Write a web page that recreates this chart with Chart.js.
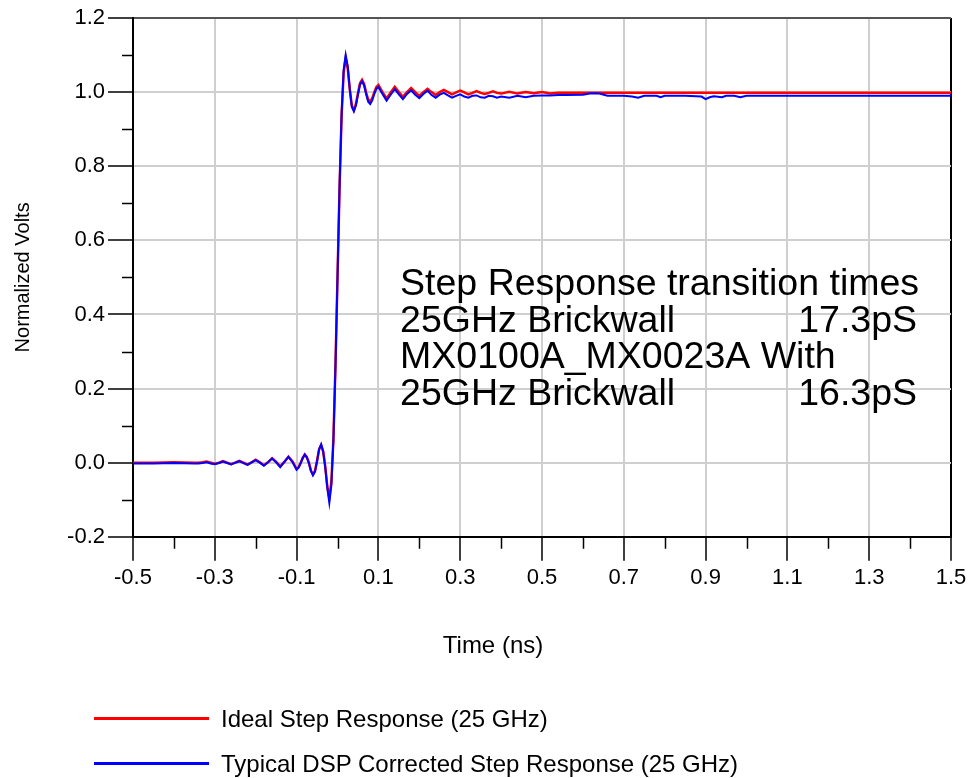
<!DOCTYPE html>
<html>
<head>
<meta charset="utf-8">
<script src="https://cdn.jsdelivr.net/npm/chart.js@4.4.0/dist/chart.umd.min.js"></script>
<style>
  html, body { margin: 0; padding: 0; background: #fff; }
  #wrap { position: relative; width: 975px; height: 778px; }
  #legend { position: absolute; left: 0; top: 696px; font-family: "Liberation Sans", Arial, sans-serif; font-size: 24px; color: #000; }
  #legend .item { display: flex; align-items: center; height: 45px; }
  #legend .swatch { width: 115px; height: 3px; margin-left: 94px; margin-right: 12px; }
</style>
</head>
<body>
<div id="wrap">
  <canvas id="step-chart" width="975" height="778"></canvas>
  <div id="legend"></div>
</div>
<script>
// step response, 25 GHz brickwall vs DSP corrected
// values

const FONT = '"Liberation Sans", Arial, sans-serif';

const timeNs = [
  -0.5, -0.45, -0.4, -0.35,
  -0.34, -0.33, -0.32, -0.31, -0.30, -0.29, -0.28, -0.27, -0.26, -0.25, -0.24, -0.23,
  -0.22, -0.21, -0.20, -0.19, -0.18, -0.17, -0.16, -0.15, -0.14, -0.13, -0.12, -0.11,
  -0.100, -0.095, -0.090, -0.085, -0.080, -0.075, -0.070, -0.065, -0.060, -0.055,
  -0.050, -0.045, -0.040, -0.035, -0.030, -0.025, -0.020, -0.015, -0.010, -0.005,
  0.000, 0.005, 0.010, 0.015, 0.020, 0.025, 0.030, 0.035, 0.040, 0.045,
  0.050, 0.055, 0.060, 0.065, 0.070, 0.075, 0.080, 0.085, 0.090, 0.095, 0.100,
  0.11, 0.12, 0.13, 0.14, 0.15, 0.16, 0.17, 0.18, 0.19, 0.20,
  0.21, 0.22, 0.23, 0.24, 0.25, 0.26, 0.27, 0.28, 0.29, 0.30,
  0.31, 0.32, 0.33, 0.34, 0.35, 0.36, 0.37, 0.38, 0.39, 0.40,
  0.42, 0.44, 0.46, 0.48, 0.50, 0.52, 0.54, 0.56,
  0.60, 0.62, 0.64, 0.66, 0.70, 0.72, 0.735, 0.75, 0.78, 0.79, 0.80, 0.85, 0.89,
  0.90, 0.91, 0.92, 0.94, 0.95, 0.97, 0.985, 1.00, 1.10, 1.20, 1.30, 1.40, 1.50
];

const idealV = [
  0.000, 0.000, 0.001, 0.000,
  0.000, 0.001, 0.003, 0.000, -0.003, 0.000, 0.004, 0.000, -0.004, 0.000, 0.005, 0.000,
  -0.005, 0.001, 0.008, 0.001, -0.007, 0.001, 0.012, 0.002, -0.010, 0.002, 0.016, 0.003,
  -0.017, -0.012, 0.000, 0.013, 0.022, 0.015, 0.000, -0.021, -0.032, -0.022,
  0.005, 0.036, 0.048, 0.030, -0.010, -0.063, -0.095, -0.052, 0.064, 0.262,
  0.500, 0.740, 0.936, 1.052, 1.092, 1.064, 1.008, 0.964, 0.951, 0.968,
  0.997, 1.024, 1.033, 1.022, 0.999, 0.980, 0.975, 0.984, 1.000, 1.014, 1.019,
  1.000, 0.983, 0.999, 1.014, 1.000, 0.987, 1.000, 1.011, 1.000, 0.990,
  1.000, 1.009, 1.000, 0.992, 1.000, 1.006, 1.000, 0.994, 0.999, 1.004,
  0.999, 0.994, 0.998, 1.003, 0.998, 0.995, 0.998, 1.002, 0.998, 0.996,
  1.001, 0.996, 1.000, 0.997, 1.000, 0.996, 0.998, 0.998,
  0.998, 0.998, 0.998, 0.998, 0.998, 0.998, 0.998, 0.998, 0.998, 0.998, 0.998, 0.998, 0.998,
  0.998, 0.998, 0.998, 0.998, 0.998, 0.998, 0.998, 0.998, 0.998, 0.998, 0.998, 0.998, 0.998
];

const dspV = [
  -0.002, -0.002, -0.001, -0.002,
  -0.002, -0.001, 0.001, -0.002, -0.004, -0.001, 0.003, -0.001, -0.005, 0.000, 0.004, -0.001,
  -0.006, 0.001, 0.007, 0.000, -0.008, 0.001, 0.011, 0.001, -0.012, 0.002, 0.016, 0.002,
  -0.019, -0.013, -0.001, 0.012, 0.022, 0.014, -0.001, -0.022, -0.034, -0.024,
  0.004, 0.036, 0.049, 0.030, -0.012, -0.068, -0.108, -0.060, 0.060, 0.258,
  0.500, 0.745, 0.940, 1.060, 1.100, 1.070, 1.008, 0.960, 0.948, 0.964,
  0.993, 1.020, 1.029, 1.018, 0.994, 0.974, 0.968, 0.978, 0.995, 1.009, 1.014,
  0.995, 0.977, 0.993, 1.008, 0.994, 0.981, 0.995, 1.005, 0.993, 0.984,
  0.995, 1.004, 0.992, 0.985, 0.993, 0.998, 0.991, 0.985, 0.990, 0.994,
  0.988, 0.985, 0.990, 0.991, 0.986, 0.985, 0.990, 0.989, 0.985, 0.988,
  0.985, 0.990, 0.986, 0.990, 0.991, 0.991, 0.992, 0.992,
  0.993, 0.997, 0.996, 0.990, 0.990, 0.988, 0.985, 0.990, 0.990, 0.986, 0.990, 0.990, 0.988,
  0.981, 0.986, 0.989, 0.986, 0.990, 0.990, 0.986, 0.990, 0.990, 0.990, 0.990, 0.990, 0.990
];

const seriesNames = ['Ideal Step Response (25 GHz)', 'Typical DSP Corrected Step Response (25 GHz)'];
const seriesColors = ['#ff0000', '#0000ff'];

const xMajorTicks = [-0.5, -0.3, -0.1, 0.1, 0.3, 0.5, 0.7, 0.9, 1.1, 1.3, 1.5];
const xMinorTicks = [-0.4, -0.2, 0.0, 0.2, 0.4, 0.6, 0.8, 1.0, 1.2, 1.4];
const yMajorTicks = [-0.2, 0.0, 0.2, 0.4, 0.6, 0.8, 1.0, 1.2];
const yMinorTicks = [-0.1, 0.1, 0.3, 0.5, 0.7, 0.9, 1.1];

// text box inside the plot
const noteLeft = ['Step Response transition times', '25GHz Brickwall', 'MX0100A_MX0023A With', '25GHz Brickwall'];
const noteRight = ['', '17.3pS', '', '16.3pS'];
const noteRowsY = [0.480, 0.381, 0.283, 0.183];
const noteX = [0.153, 1.417];

const minorTicksPlugin = {
  id: 'minorTicks',
  afterDraw(chart) {
    const { ctx, chartArea, scales } = chart;
    ctx.save();
    ctx.strokeStyle = '#000';
    ctx.lineWidth = 1.5;
    ctx.beginPath();
    yMinorTicks.forEach(v => {
      const y = Math.round(scales.y.getPixelForValue(v)) + 0.5;
      ctx.moveTo(chartArea.left - 11, y);
      ctx.lineTo(chartArea.left, y);
    });
    xMinorTicks.forEach(v => {
      const x = Math.round(scales.x.getPixelForValue(v)) + 0.5;
      ctx.moveTo(x, chartArea.bottom);
      ctx.lineTo(x, chartArea.bottom + 12);
    });
    ctx.stroke();
    ctx.restore();
  }
};

const notePlugin = {
  id: 'note',
  afterDatasetsDraw(chart) {
    const { ctx, scales } = chart;
    ctx.save();
    ctx.fillStyle = '#000';
    ctx.font = '37.5px ' + FONT;
    ctx.textBaseline = 'middle';
    const xl = scales.x.getPixelForValue(noteX[0]);
    const xr = scales.x.getPixelForValue(noteX[1]);
    noteLeft.forEach((txt, i) => {
      const y = scales.y.getPixelForValue(noteRowsY[i]);
      ctx.textAlign = 'left';
      ctx.fillText(txt, xl, y);
      if (noteRight[i]) {
        ctx.textAlign = 'right';
        ctx.fillText(noteRight[i], xr, y);
      }
    });
    ctx.restore();
  }
};

const htmlLegendPlugin = {
  id: 'htmlLegend',
  afterUpdate(chart) {
    const box = document.getElementById('legend');
    box.innerHTML = '';
    chart.data.datasets.forEach(ds => {
      const item = document.createElement('div');
      item.className = 'item';
      const sw = document.createElement('span');
      sw.className = 'swatch';
      sw.style.background = ds.borderColor;
      const label = document.createElement('span');
      label.textContent = ds.label;
      item.appendChild(sw);
      item.appendChild(label);
      box.appendChild(item);
    });
  }
};

// blue drawn over red
const datasets = [idealV, dspV].map((vals, i) => ({
  label: seriesNames[i],
  data: timeNs.map((t, k) => ({ x: t, y: vals[k] })),
  borderColor: seriesColors[i],
  backgroundColor: seriesColors[i],
  borderWidth: i === 0 ? 2.5 : 2,
  pointRadius: 0,
  tension: 0,
  order: i === 0 ? 2 : 1
}));

const ctx = document.getElementById('step-chart').getContext('2d');
new Chart(ctx, {
  type: 'line',
  data: { datasets },
  options: {
    responsive: false,
    animation: false,
    devicePixelRatio: 1,
    layout: { padding: { left: 11, right: 0, top: 18, bottom: 117 } },
    plugins: {
      legend: { display: false },
      tooltip: { enabled: false },
      title: {
        display: true,
        position: 'bottom',
        text: 'Time (ns)',
        color: '#000',
        font: { family: FONT, size: 24, weight: 'normal' },
        padding: { top: 37, bottom: 0 }
      }
    },
    scales: {
      x: {
        type: 'linear',
        min: -0.5,
        max: 1.5,
        afterBuildTicks: scale => { scale.ticks = xMajorTicks.map(v => ({ value: v })); },
        afterFit: scale => { scale.paddingRight = 24; },
        ticks: {
          callback: v => v.toFixed(1),
          color: '#000',
          font: { family: FONT, size: 22 },
          padding: 4,
          maxRotation: 0,
          autoSkip: false
        },
        grid: {
          color: c => (c.tick && c.tick.value === 1.5 ? '#000' : '#cfcfcf'),
          lineWidth: 2,
          tickLength: 24,
          tickColor: '#000',
          tickWidth: 1.5
        },
        border: { color: '#000', width: 2 }
      },
      y: {
        type: 'linear',
        min: -0.2,
        max: 1.2,
        afterBuildTicks: scale => { scale.ticks = yMajorTicks.map(v => ({ value: v })); },
        afterFit: scale => { scale.width = 122; },
        ticks: {
          callback: v => v.toFixed(1),
          color: '#000',
          font: { family: FONT, size: 22 },
          padding: 3
        },
        grid: {
          color: c => (c.tick && c.tick.value === 1.2 ? '#555' : '#cfcfcf'),
          lineWidth: 2,
          tickLength: 25,
          tickColor: '#000',
          tickWidth: 1.5
        },
        border: { color: '#000', width: 2 },
        title: {
          display: true,
          text: 'Normalized Volts',
          color: '#000',
          font: { family: FONT, size: 20 },
          padding: { top: 0, bottom: 0 }
        }
      }
    }
  },
  plugins: [minorTicksPlugin, notePlugin, htmlLegendPlugin]
});
</script>
</body>
</html>
